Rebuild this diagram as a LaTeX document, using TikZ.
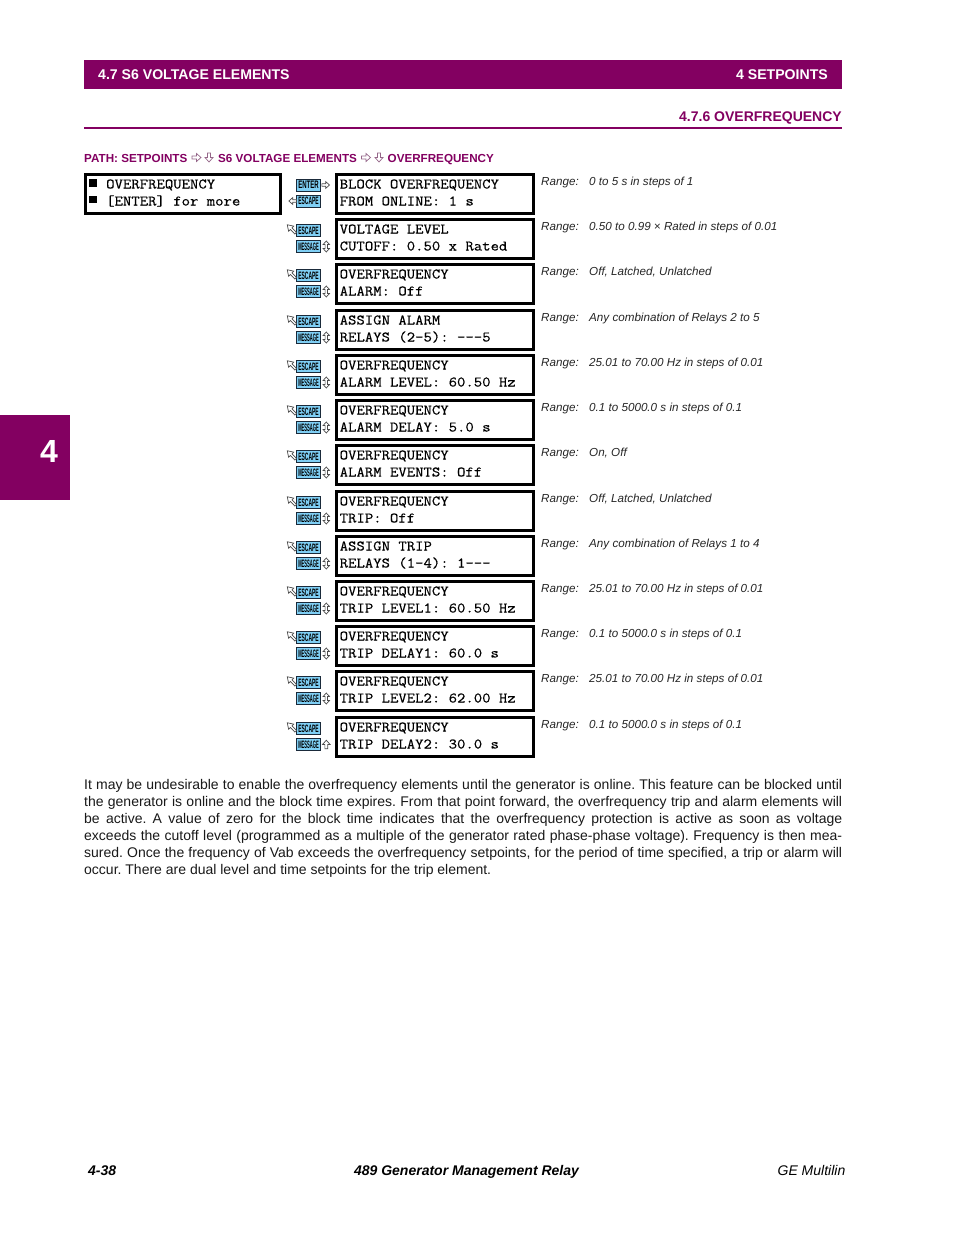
\documentclass[tikz,border=0pt]{standalone}
\usepackage{fontspec}
\setmainfont{Liberation Sans}
\setmonofont{Latin Modern Mono}[FakeBold=0.45,FakeStretch=1.115]
\definecolor{gepurple}{HTML}{830061}
\definecolor{keyblue}{HTML}{7FCFF5}
\definecolor{keydark}{HTML}{1A2A3A}
\tikzset{
  x=1pt,y=-1pt,
  lcdbox/.style={draw=black,line width=3pt,fill=white,minimum width=197pt,minimum height=38.8pt,anchor=north west,inner sep=0pt},
  lcdtext/.style={anchor=base west,inner sep=0pt,font=\fontsize{14.6}{16}\selectfont\ttfamily},
  rangetext/.style={anchor=base west,inner sep=0pt,font=\fontsize{11.65}{14}\selectfont\itshape,text=black!85},
  headwhite/.style={inner sep=0pt,text=white,font=\fontsize{14.1}{16}\selectfont\bfseries},
  headpurple/.style={inner sep=0pt,text=gepurple,font=\fontsize{14}{16}\selectfont\bfseries},
  pathtext/.style={anchor=base west,inner sep=0pt,text=gepurple,font=\fontsize{11.65}{14}\selectfont\bfseries},
  keybtn/.style={draw=keydark,line width=.7pt,fill=keyblue,minimum width=24pt,minimum height=12pt,inner sep=0pt},
  keyedge/.style={draw=keydark,line width=1.2pt},
  harrow/.style={draw=black!70,line width=.7pt,fill=white,line join=miter},
  parrow/.style={draw=gepurple!60!black!60,line width=.7pt,fill=white,line join=miter},
}
% hollow arrow pointing right, centred on #2, rotated #3 degrees, scaled #4
\newcommand{\hollowarrow}[4][harrow]{%
  \draw[#1,shift={(#2)},rotate=#3,scale=#4]
    (-4.5,-1.5)--(0,-1.5)--(0,-4)--(4.5,0)--(0,4)--(0,1.5)--(-4.5,1.5)--cycle;}
\newcommand{\cursorarrow}[1]{%
  \draw[harrow,shift={(#1)},rotate=135]
    (-6,-1.2)--(0.5,-1.2)--(0.5,-3.6)--(6,0)--(0.5,3.6)--(0.5,1.2)--(-6,1.2)--cycle;}
\newcommand{\hollowdouble}[1]{%
  \draw[harrow,shift={(#1)}]
    (0,-5.5)--(3.2,-2)--(1.2,-2)--(1.2,2)--(3.2,2)--(0,5.5)--(-3.2,2)--(-1.2,2)--(-1.2,-2)--(-3.2,-2)--cycle;}
\newcommand{\keylabel}[1]{\resizebox{20.5pt}{7.5pt}{\bfseries\fontsize{10}{10}\selectfont #1}}
\newcommand{\keyshade}[1]{\draw[keyedge] (#1.south west) -- (#1.south east) -- (#1.north east);}
\newcommand{\bodyline}[1]{\makebox[758pt][s]{#1}}
\begin{document}
\begin{tikzpicture}
\useasboundingbox (0,0) rectangle (954,1235);
\fill[white] (0,0) rectangle (954,1235);
% header
\fill[gepurple] (84,60) rectangle (842,89);
\node[headwhite,anchor=base west] (h1) at (98,79) {4.7 S6 VOLTAGE ELEMENTS};
\node[headwhite,anchor=base east] (h2) at (828,79) {4 SETPOINTS};
\node[headpurple,anchor=base east] (h3) at (842,121) {4.7.6 OVERFREQUENCY};
\draw[gepurple,line width=1.5pt] (84,128) -- (842,128);
% side tab
\fill[gepurple] (0,415) rectangle (70,500);
\node[inner sep=0pt,text=white,font=\fontsize{32}{32}\selectfont\bfseries] (tab) at (49,451) {4};
% path
\node[pathtext] (p1) at (84,162) {PATH: SETPOINTS};
\hollowarrow[parrow]{196.5,157.5}{0}{1}
\hollowarrow[parrow]{209,157.5}{-90}{1}
\node[pathtext] (p2) at (218,162) {S6 VOLTAGE ELEMENTS};
\hollowarrow[parrow]{366,157.5}{0}{1}
\hollowarrow[parrow]{379,157.5}{-90}{1}
\node[pathtext] (p3) at (387.5,162) {OVERFREQUENCY};
% first box
\node[lcdbox,minimum width=195pt,minimum height=38.8pt] (menu) at (83.5,173) {};
\fill[black] (89,179.3) rectangle (96.7,186.7);
\fill[black] (89,196) rectangle (96.7,203.3);
\node[lcdtext] (m1) at (106,188.5) {OVERFREQUENCY};
\node[lcdtext] (m2) at (106,205.5) {[ENTER] for more};
% first row keys
\node[keybtn] (enter) at (308.5,185) {\keylabel{ENTER}};
\keyshade{enter}
\node[keybtn] (esc0) at (308.5,201) {\keylabel{ESCAPE}};
\keyshade{esc0}
\hollowarrow{325.7,185}{0}{.85}
\hollowarrow{292.7,201}{180}{.85}
% rows
\newcommand{\lcdrow}[7]{% idx, y1, line1, line2, range, arrowkind
  \node[lcdbox] (box#1) at (335,#2-11) {};
  \node[lcdtext] (a#1) at (339.5,#2+4.5) {#3};
  \node[lcdtext] (b#1) at (339.5,#2+21.5) {#4};
  \node[rangetext] (rl#1) at (541,#2+1.1) {Range:};
  \node[rangetext] (rv#1) at (589,#2+1.1) {#5};
  \ifnum#6=1
    \node[keybtn] (esc#1) at (308.5,#2+1.5) {\keylabel{ESCAPE}};
    \keyshade{esc#1}
    \node[keybtn] (msg#1) at (308.5,#2+17.5) {\keylabel{MESSAGE}};
    \keyshade{msg#1}
    \cursorarrow{291.5,#2}
    #7
  \fi}
\lcdrow{1}{184}{BLOCK OVERFREQUENCY}{FROM ONLINE: 1 s}{0 to 5 s in steps of 1}{0}{}
\lcdrow{2}{229}{VOLTAGE LEVEL}{CUTOFF: 0.50 x Rated}{0.50 to 0.99 × Rated in steps of 0.01}{1}{\hollowdouble{326.3,246.5}}
\lcdrow{3}{274}{OVERFREQUENCY}{ALARM: Off}{Off, Latched, Unlatched}{1}{\hollowdouble{326.3,291.5}}
\lcdrow{4}{320}{ASSIGN ALARM}{RELAYS (2-5): ---5}{Any combination of Relays 2 to 5}{1}{\hollowdouble{326.3,337.5}}
\lcdrow{5}{365}{OVERFREQUENCY}{ALARM LEVEL: 60.50 Hz}{25.01 to 70.00 Hz in steps of 0.01}{1}{\hollowdouble{326.3,382.5}}
\lcdrow{6}{410}{OVERFREQUENCY}{ALARM DELAY: 5.0 s}{0.1 to 5000.0 s in steps of 0.1}{1}{\hollowdouble{326.3,427.5}}
\lcdrow{7}{455}{OVERFREQUENCY}{ALARM EVENTS: Off}{On, Off}{1}{\hollowdouble{326.3,472.5}}
\lcdrow{8}{501}{OVERFREQUENCY}{TRIP: Off}{Off, Latched, Unlatched}{1}{\hollowdouble{326.3,518.5}}
\lcdrow{9}{546}{ASSIGN TRIP}{RELAYS (1-4): 1---}{Any combination of Relays 1 to 4}{1}{\hollowdouble{326.3,563.5}}
\lcdrow{10}{591}{OVERFREQUENCY}{TRIP LEVEL1: 60.50 Hz}{25.01 to 70.00 Hz in steps of 0.01}{1}{\hollowdouble{326.3,608.5}}
\lcdrow{11}{636}{OVERFREQUENCY}{TRIP DELAY1: 60.0 s}{0.1 to 5000.0 s in steps of 0.1}{1}{\hollowdouble{326.3,653.5}}
\lcdrow{12}{681}{OVERFREQUENCY}{TRIP LEVEL2: 62.00 Hz}{25.01 to 70.00 Hz in steps of 0.01}{1}{\hollowdouble{326.3,698.5}}
\lcdrow{13}{727}{OVERFREQUENCY}{TRIP DELAY2: 30.0 s}{0.1 to 5000.0 s in steps of 0.1}{1}{\hollowarrow{326.3,744.5}{90}{.95}}
% body
\node[anchor=north west,inner sep=0pt,align=left,font=\fontsize{14}{17}\selectfont\frenchspacing,text=black!90] (body) at (84,778.7) {%
\bodyline{It may be undesirable to enable the overfrequency elements until the generator is online. This feature can be blocked until}\\
\bodyline{the generator is online and the block time expires. From that point forward, the overfrequency trip and alarm elements will}\\
\bodyline{be active. A value of zero for the block time indicates that the overfrequency protection is active as soon as voltage}\\
\bodyline{exceeds the cutoff level (programmed as a multiple of the generator rated phase-phase voltage). Frequency is then mea-}\\
\bodyline{sured. Once the frequency of Vab exceeds the overfrequency setpoints, for the period of time specified, a trip or alarm will}\\
occur. There are dual level and time setpoints for the trip element.};
% footer
\node[anchor=base west,inner sep=0pt,font=\fontsize{14}{16}\selectfont\bfseries\itshape] (f1) at (88,1175) {4-38};
\node[anchor=base,inner sep=0pt,font=\fontsize{14}{16}\selectfont\bfseries\itshape] (f2) at (466.5,1175) {489 Generator Management Relay};
\node[anchor=base east,inner sep=0pt,font=\fontsize{14}{16}\selectfont\itshape] (f3) at (845.5,1175) {GE Multilin};
\end{tikzpicture}
\end{document}
